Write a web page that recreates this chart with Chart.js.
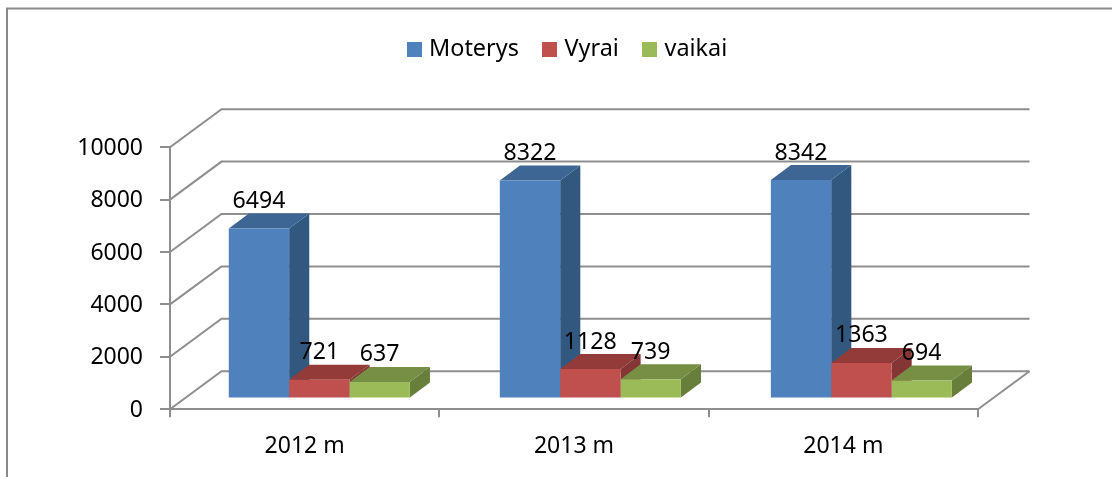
<!DOCTYPE html>
<html>
<head>
<meta charset="utf-8">
<style>html,body{margin:0;padding:0;background:#fff}canvas{display:block}</style>
<script src="https://cdn.jsdelivr.net/npm/chart.js@4"></script>
</head>
<body>
<canvas id="c" width="1112" height="477"></canvas>
<script>
const categories = ['2012 m', '2013 m', '2014 m'];
const seriesNames = ['Moterys', 'Vyrai', 'vaikai'];
const moterys = [6494, 8322, 8342];
const vyrai = [721, 1128, 1363];
const vaikai = [637, 739, 694];
const frontColors = ['#4F81BD', '#C0504D', '#9BBB59'];
const topColors = ['#3D6695', '#933B39', '#778F44'];
const sideColors = ['#335880', '#853634', '#687E3B'];

const FONT = '"Noto Sans", sans-serif';
const FS = 23;
const LFS = 23.4;
const LINE = '#8E8E8E';
const WALL = {dx: 51.5, dy: -38};
const SHIFT = {dx: 13.8, dy: -10.6, k: 1.0063};
const DEPTH = {dx: 20, dy: -15};

function swatch(color) {
  const s = document.createElement('canvas');
  s.width = 15; s.height = 15;
  const g = s.getContext('2d');
  g.fillStyle = color; g.fillRect(0, 0, 15, 15);
  return s;
}
const swatches = frontColors.map(swatch);

function line(ctx, pts, color, w) {
  ctx.beginPath();
  pts.forEach((p, i) => i ? ctx.lineTo(p[0], p[1]) : ctx.moveTo(p[0], p[1]));
  ctx.strokeStyle = color; ctx.lineWidth = w; ctx.stroke();
}
function poly(ctx, pts, color) {
  ctx.beginPath();
  pts.forEach((p, i) => i ? ctx.lineTo(p[0], p[1]) : ctx.moveTo(p[0], p[1]));
  ctx.closePath(); ctx.fillStyle = color; ctx.fill();
}

const bars3d = {
  id: 'bars3d',
  afterLayout(chart) {
    const l = chart.legend;
    const dx = 565.5 - (l.left + l.right) / 2 + 3.8;
    const dy = 10 - l.top;
    l.left += dx; l.right += dx; l.top += dy; l.bottom += dy;
  },
  beforeDraw(chart) {
    const ctx = chart.ctx;
    ctx.save();
    ctx.fillStyle = '#fff';
    ctx.fillRect(0, 0, chart.width, chart.height);
    line(ctx, [[7, 477], [7, 8.5], [1112, 8.5]], '#8A8A8A', 2);
    ctx.restore();
  },
  beforeDatasetsDraw(chart) {
    const ctx = chart.ctx;
    const {left, right, bottom} = chart.chartArea;
    const yS = chart.scales.y;
    ctx.save();
    ctx.lineJoin = 'miter';
    yS.ticks.forEach(t => {
      const y = yS.getPixelForValue(t.value);
      line(ctx, [[left, y], [left + WALL.dx, y + WALL.dy], [right + WALL.dx, y + WALL.dy]], LINE, 2);
    });
    line(ctx, [[right, bottom], [right + WALL.dx, bottom + WALL.dy]], LINE, 2);
    ctx.restore();
    ctx.save();
    ctx.translate(SHIFT.dx + left, SHIFT.dy);
    ctx.scale(SHIFT.k, 1);
    ctx.translate(-left, 0);
    chart.data.datasets.forEach((ds, di) => {
      chart.getDatasetMeta(di).data.forEach(b => {
        const L = b.x - b.width / 2, R = b.x + b.width / 2, T = b.y, B = b.base;
        poly(ctx, [[R, B], [R + DEPTH.dx, B + DEPTH.dy], [R + DEPTH.dx, T + DEPTH.dy], [R, T]], sideColors[di]);
        poly(ctx, [[L, T], [L + DEPTH.dx, T + DEPTH.dy], [R + DEPTH.dx, T + DEPTH.dy], [R, T]], topColors[di]);
      });
    });
  },
  afterDatasetsDraw(chart) {
    const ctx = chart.ctx;
    ctx.fillStyle = '#000';
    ctx.font = FS + 'px ' + FONT;
    ctx.textAlign = 'center';
    ctx.textBaseline = 'middle';
    chart.data.datasets.forEach((ds, di) => {
      chart.getDatasetMeta(di).data.forEach((b, i) => {
        ctx.fillText(String(ds.data[i]), b.x, b.y + DEPTH.dy - 12);
      });
    });
    ctx.restore();
  }
};

new Chart(document.getElementById('c'), {
  type: 'bar',
  data: {
    labels: categories,
    datasets: [
      {label: seriesNames[0], data: moterys, backgroundColor: frontColors[0]},
      {label: seriesNames[1], data: vyrai, backgroundColor: frontColors[1]},
      {label: seriesNames[2], data: vaikai, backgroundColor: frontColors[2]}
    ]
  },
  options: {
    responsive: false,
    animation: false,
    events: [],
    barPercentage: 1,
    categoryPercentage: 0.668,
    clip: false,
    layout: {padding: {top: 85.8, left: 0, right: 134, bottom: 0}},
    plugins: {
      tooltip: {enabled: false},
      legend: {
        position: 'top',
        labels: {
          color: '#000',
          font: {family: FONT, size: LFS},
          usePointStyle: true,
          pointStyleWidth: 6,
          boxHeight: 15,
          padding: 28,
          generateLabels(chart) {
            return Chart.defaults.plugins.legend.labels.generateLabels(chart)
              .map((it, i) => Object.assign(it, {pointStyle: swatches[i]}));
          }
        }
      }
    },
    scales: {
      x: {
        afterFit(s) { s.height = 477 - 409.2; },
        grid: {display: true, drawOnChartArea: false, color: LINE, lineWidth: 2, tickLength: 8},
        border: {color: LINE, width: 2},
        ticks: {color: '#000', font: {family: FONT, size: FS}, padding: 15, maxRotation: 0}
      },
      y: {
        min: 0, max: 10000,
        afterFit(s) { s.width = 170; },
        grid: {display: true, drawOnChartArea: false, color: LINE, lineWidth: 2, tickLength: 10},
        border: {color: LINE, width: 2},
        ticks: {color: '#000', font: {family: FONT, size: FS}, padding: 17, stepSize: 2000, labelOffset: 1, callback: v => String(v)}
      }
    }
  },
  plugins: [bars3d]
});
</script>
</body>
</html>
